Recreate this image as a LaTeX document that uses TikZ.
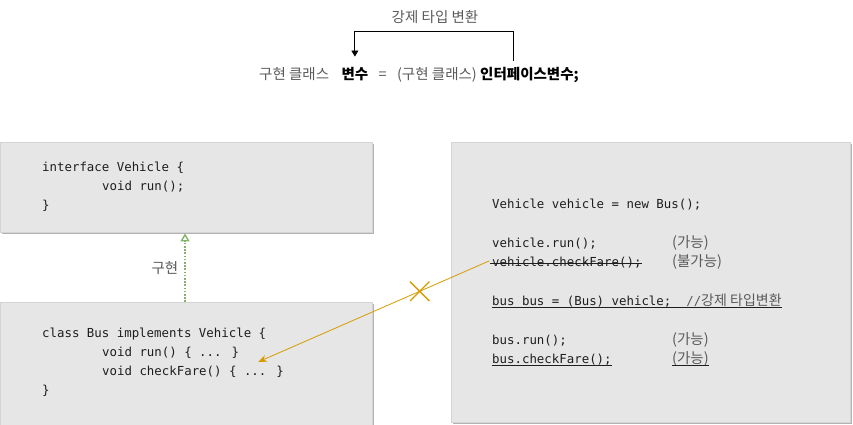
\documentclass[tikz,border=0pt]{standalone}
\usepackage{fontspec}
\newfontfamily\kr{Noto Sans CJK KR}
\newfontfamily\codefont{DejaVu Sans Mono}
\usetikzlibrary{positioning,arrows.meta,shadows,shapes.misc}
\definecolor{boxfill}{HTML}{E6E6E6}
\definecolor{boxline}{HTML}{D4D4D4}
\definecolor{shadowgray}{HTML}{B3B3B3}
\definecolor{labelgray}{HTML}{5A5A5A}
\definecolor{codeblack}{HTML}{1E1E1E}
\definecolor{implgreen}{HTML}{82B366}
\definecolor{castorange}{HTML}{D79B00}
\tikzset{
  codebox/.style={fill=boxfill, draw=boxline, line width=0.4pt, anchor=north west, inner sep=0,
    drop shadow={shadow xshift=2pt, shadow yshift=-2pt, fill=shadowgray, opacity=1}},
  code/.style={anchor=base west, inner sep=0, text=codeblack, font=\codefont\fontsize{12.4}{14}\selectfont},
  note/.style={anchor=base west, inner sep=0, text=labelgray, font=\kr\fontsize{14.5}{16}\selectfont},
  word/.style={inner sep=0, text=labelgray, font=\kr\fontsize{14.5}{16}\selectfont},
  keyword/.style={word, text=black, font=\kr\bfseries\fontsize{14.5}{16}\selectfont},
}
\begin{document}
\begin{tikzpicture}[x=1pt,y=-1pt]
    \useasboundingbox (0,0) rectangle (853,425);
    % Formula at the top
    \node[word, anchor=base west] (implcls) at (259,80) {구현 클래스};
    \node[keyword, base right=12pt of implcls] (var) {변수};
    \node[word, base right=10pt of var] (eq) {=};
    \node[word, base right=10pt of eq] (castcls) {(구현 클래스)};
    \node[keyword, base right=3pt of castcls] (ivar) {인터페이스변수;};
    \node[word] (castlbl) at (435,17) {강제 타입 변환};
    \draw[line width=0.8pt, -{Triangle[length=6pt,width=7pt]}]
        ([xshift=33pt,yshift=7pt]ivar.north west) -- ++(0,-29) -| ([yshift=11pt]var.north);
    % Boxes
    \node[codebox, minimum width=372pt, minimum height=90pt] (iface) at (0,142) {};
    \node[codebox, minimum width=372pt, minimum height=130pt] (bus) at (0,302) {};
    \node[codebox, minimum width=399pt, minimum height=280pt] (main) at (451,142) {};
    % interface Vehicle
    \node[code] (ifhead) at (42,171) {interface Vehicle \{};
    \node[code] (ifrun) at (102,190) {void run();};
    \node[code] (ifend) at (42,209) {\}};
    % class Bus
    \node[code] (bushead) at (42,337) {class Bus implements Vehicle \{};
    \node[code] (busrun) at (102,356) {void run() \{ ... \}};
    \node[code] (buscf) at (102,375) {void checkFare() \{ ... \}};
    \node[code] (busend) at (42,394) {\}};
    \coordinate (busdots) at (258,362);
    % main
    \node[code] (vdecl) at (492,208) {Vehicle vehicle = new Bus();};
    \node[code] (vrun) at (492,247) {vehicle.run();};
    \node[note] (vrunok) at (672,247) {(가능)};
    \node[code] (vcf) at (492,266) {vehicle.checkFare();};
    \node[note] (vcfno) at (672,266) {(불가능)};
    \node[code] (bcast) at (492,305) {bus bus = (Bus) vehicle;\ \ {\color{labelgray}//{\kr\fontsize{14}{16}\selectfont 강제 타입변환}}};
    \node[code] (brun) at (492,344) {bus.run();};
    \node[note] (brunok) at (672,344) {(가능)};
    \node[code] (bcf) at (492,363) {bus.checkFare();};
    \node[note] (bcfok) at (672,363) {(가능)};
    % Strike and underlines
    \draw[codeblack] ([xshift=-2pt,yshift=3pt]vcf.base west) -- ([yshift=3pt]vcf.base east);
    \draw[codeblack] ([yshift=-2.5pt]bcast.base west) -- ([yshift=-2.5pt]bcast.base east);
    \draw[codeblack] ([yshift=-2.5pt]bcf.base west) -- ([yshift=-2.5pt]bcf.base east);
    \draw[codeblack] ([yshift=-2.5pt]bcfok.base west) -- ([yshift=-2.5pt]bcfok.base east);
    % Implementation
    \draw[implgreen, line width=1.6pt, dash pattern=on 1.6pt off 1.6pt, -{Triangle[open,length=8pt,width=9pt,line width=1.4pt]}]
        ([xshift=185pt]bus.north west) -- ([xshift=185pt,yshift=-1pt]iface.south west)
        node[word, midway, left=6pt] (impllbl) {구현};
    % Cast attempt
    \draw[castorange, line width=0.8pt, -{Stealth[length=9pt,width=7pt]}]
        ([xshift=-3pt,yshift=5pt]vcf.base west) -- (busdots)
        node[pos=0.3, cross out, draw=castorange, line width=1.4pt, minimum size=18pt, inner sep=0] (nocast) {};
\end{tikzpicture}
\end{document}
